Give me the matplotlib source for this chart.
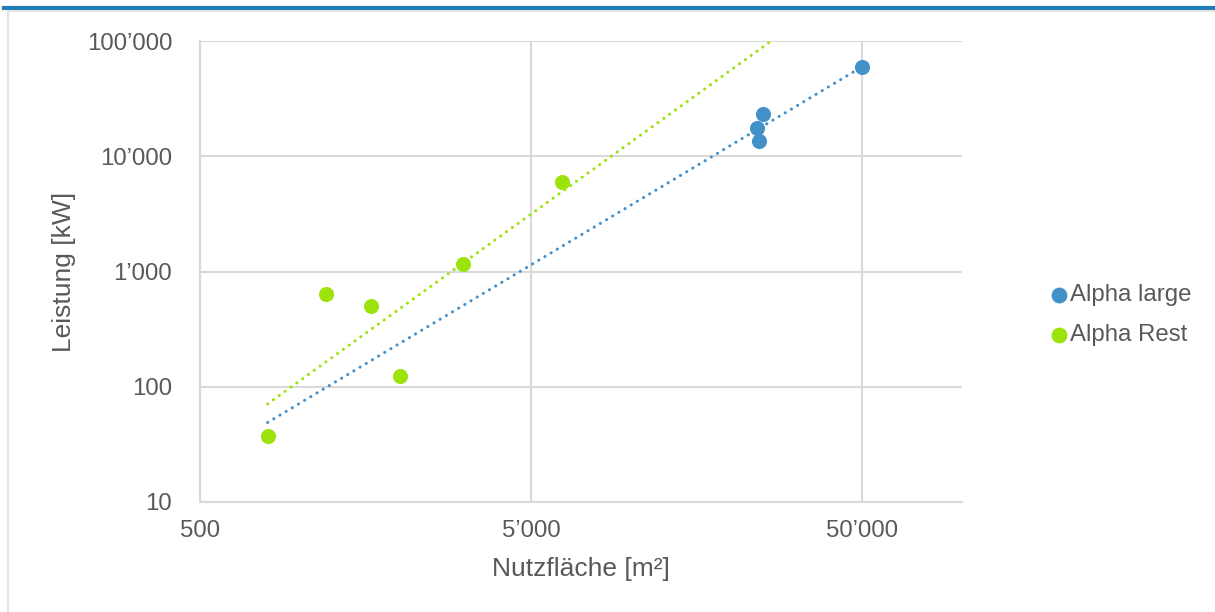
import numpy as np
import matplotlib.pyplot as plt
from matplotlib.ticker import FuncFormatter, FixedLocator, NullLocator

# data
large_area = [50000, 25100, 24100, 24300]
large_power = [59300, 23200, 17500, 13500]
rest_area = [800, 1200, 1640, 2010, 3120, 6200]
rest_power = [37.4, 637, 501, 124, 1160, 5960]

series_names = ["Alpha large", "Alpha Rest"]
blue = "#4291C9"
green = "#9BE30B"
grey_text = "#595959"
grid_col = "#D9D9D9"

plt.rcParams["font.family"] = ["Liberation Sans", "DejaVu Sans"]

fig = plt.figure(figsize=(12.15, 6.12), dpi=100)
ax = fig.add_axes([200 / 1215, 1 - 502 / 612, 762 / 1215, 461 / 612])

# frame decoration like the source page
fig.add_artist(plt.Line2D([4 / 1215, 1], [1 - 7.5 / 612] * 2, color="#1F7DB8", lw=3))
fig.add_artist(plt.Line2D([8 / 1215, 1], [1 - 11 / 612] * 2, color="#E3E3E3", lw=1.5))
fig.add_artist(plt.Line2D([8 / 1215] * 2, [0, 1 - 11 / 612], color="#E3E3E3", lw=1.5))


def power_fit(x, y):
    k, b = np.polyfit(np.log10(x), np.log10(y), 1)
    return k, b


all_x = large_area + rest_area
xs = np.logspace(np.log10(min(all_x)), np.log10(max(all_x)), 200)
for xa, ya, c in [(large_area, large_power, blue), (rest_area, rest_power, green)]:
    k, b = power_fit(xa, ya)
    ax.plot(xs, 10 ** b * xs ** k, color=c, lw=2.2, linestyle=(0, (0.05, 2.3)),
            dash_capstyle="round", zorder=2)

ax.scatter(large_area, large_power, s=118, color=blue, zorder=3, label=series_names[0], linewidths=0)
ax.scatter(rest_area, rest_power, s=118, color=green, zorder=3, label=series_names[1], linewidths=0)

ax.set_xscale("log")
ax.set_yscale("log")
ax.set_xlim(500, 100000)
ax.set_ylim(10, 100000)

fmt = FuncFormatter(lambda v, p: f"{v:,.0f}".replace(",", "\u2019"))
ax.xaxis.set_major_locator(FixedLocator([500, 5000, 50000]))
ax.yaxis.set_major_locator(FixedLocator([10, 100, 1000, 10000, 100000]))
ax.xaxis.set_minor_locator(NullLocator())
ax.yaxis.set_minor_locator(NullLocator())
ax.xaxis.set_major_formatter(fmt)
ax.yaxis.set_major_formatter(fmt)

ax.grid(True, color=grid_col, lw=1.5)
ax.set_axisbelow(True)
for s in ["top", "right"]:
    ax.spines[s].set_visible(False)
for s in ["left", "bottom"]:
    ax.spines[s].set_color(grid_col)
    ax.spines[s].set_linewidth(1.5)
ax.tick_params(length=0, labelsize=17.3, colors=grey_text)
ax.tick_params(axis="y", pad=20)
ax.tick_params(axis="x", pad=13)

ax.set_xlabel("Nutzfläche [m²]", fontsize=19, color=grey_text, labelpad=11)
ax.set_ylabel("Leistung [kW]", fontsize=19, color=grey_text, labelpad=8)

leg = ax.legend(loc="center left", bbox_to_anchor=(1.068, 0.405), frameon=False,
                fontsize=17.3, handletextpad=-0.55, labelspacing=0.75, markerscale=1.05)
for t in leg.get_texts():
    t.set_color(grey_text)

fig.savefig("out.png", dpi=100)
